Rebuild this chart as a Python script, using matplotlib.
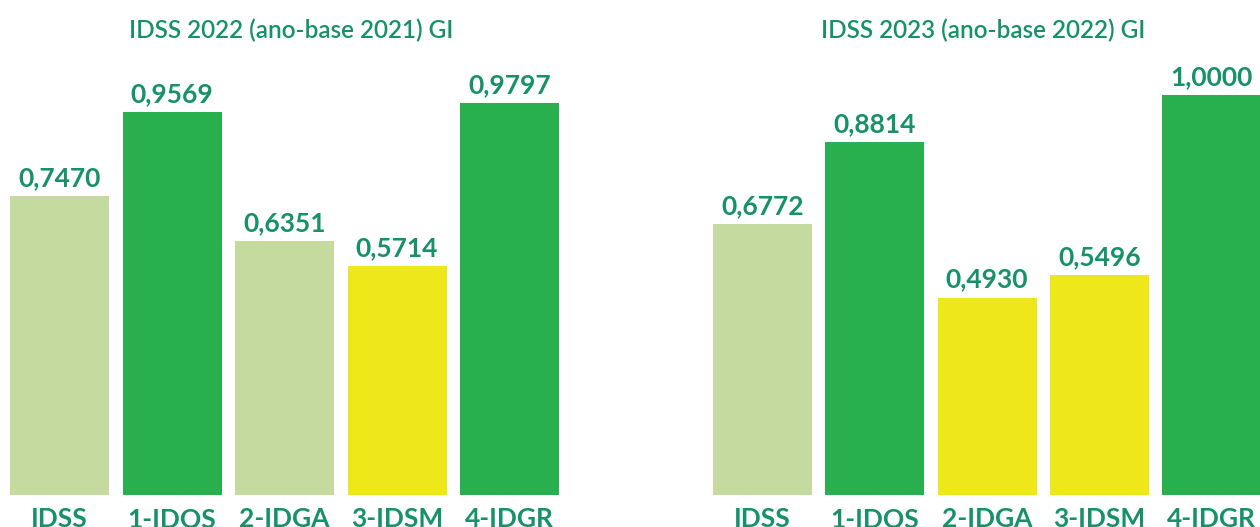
import matplotlib
matplotlib.use("Agg")
import matplotlib.pyplot as plt

categories = ["IDSS", "1-IDQS", "2-IDGA", "3-IDSM", "4-IDGR"]
values_2022 = [0.7470, 0.9569, 0.6351, 0.5714, 0.9797]
values_2023 = [0.6772, 0.8814, 0.4930, 0.5496, 1.0000]
colors_2022 = ["#C5DA9E", "#29B04E", "#C5DA9E", "#EEE81A", "#29B04E"]
colors_2023 = ["#C5DA9E", "#29B04E", "#EEE81A", "#EEE81A", "#29B04E"]
titles = ["IDSS 2022 (ano-base 2021) GI", "IDSS 2023 (ano-base 2022) GI"]

TEXT = "#17916A"
W, H = 1260, 527
fig = plt.figure(figsize=(W / 100, H / 100), dpi=100)
plt.rcParams['font.family'] = ['Lato', 'DejaVu Sans']

def fx(px):
    return px / W

def fy(py):
    return 1 - py / H

bottom_px = 494.7
unit_px = 400
ymax = 1.1
ax_h = unit_px * ymax

panels = [
    (values_2022, colors_2022, titles[0], 59.5, 112.5, 291),
    (values_2023, colors_2023, titles[1], 762.5, 112.3, 983),
]

for vals, cols, title, c0, step, tcx in panels:
    left = c0 - 0.5 * step
    width = 5 * step
    ax = fig.add_axes([fx(left), fy(bottom_px), width / W, ax_h / H])
    x = list(range(len(categories)))
    ax.bar(x, vals, width=0.88, color=cols)
    ax.set_xlim(-0.5, 4.5)
    ax.set_ylim(0, ymax)
    ax.axis("off")
    for xi, v in zip(x, vals):
        ax.annotate(f"{v:.4f}".replace(".", ","), xy=(xi, v), xytext=(0, 7.2),
                    textcoords="offset points", ha="center", va="baseline",
                    fontsize=19, fontweight="bold", color=TEXT, annotation_clip=False)
    for xi, lab in zip(x, categories):
        ax.annotate(lab, xy=(xi, 0), xycoords=("data", "axes fraction"),
                    xytext=(0, -23.5), textcoords="offset points",
                    ha="center", va="baseline", fontsize=19, fontweight="bold",
                    color=TEXT, annotation_clip=False)
    fig.text(fx(tcx), fy(38.5), title, ha="center", va="baseline",
             fontsize=17.5, fontweight="semibold", color=TEXT)

fig.savefig("out.png", dpi=100)
